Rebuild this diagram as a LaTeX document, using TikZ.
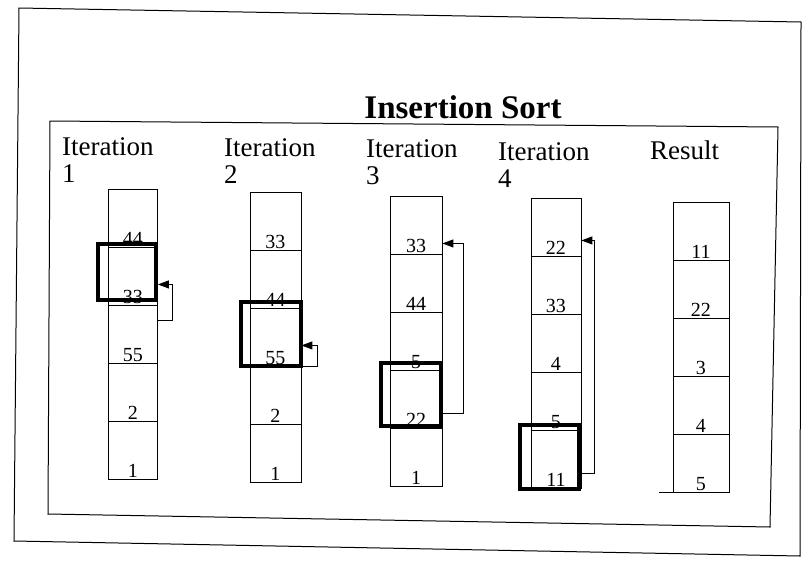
\documentclass[tikz,border=0pt]{standalone}
\usepackage{fontspec}
\setmainfont{Liberation Serif}
\usetikzlibrary{arrows.meta}
\tikzset{
  cell/.style={draw, line width=0.9pt, anchor=north west, minimum width=50pt,
    minimum height=58pt, inner xsep=0pt, inner ysep=2pt, text height=54pt,
    text depth=0pt, font=\fontsize{20}{20}\selectfont},
  hot/.style={line width=4.5pt},
  back/.style={-{Triangle[length=11pt,width=8pt]}, line width=1pt},
  head/.style={anchor=north west, align=left, inner sep=0pt,
    font=\fontsize{27}{27}\selectfont},
}
\begin{document}
\begin{tikzpicture}[x=1pt,y=-1pt]
      \useasboundingbox (0,0) rectangle (805,560);
      \draw[line width=1pt] (19,8) -- (801,22) -- (800,556) -- (14,541) -- cycle;
      \draw[line width=1pt] (50,121) -- (778,127) -- (770,527) -- (48,514) -- cycle;
      \node[font=\bfseries\fontsize{33}{33}\selectfont, anchor=base] (title) at (463,118) {Insertion Sort};
      \node[head] (h1) at (62,137) {Iteration\\1};
      \node[head] (h2) at (224,138) {Iteration\\2};
      \node[head] (h3) at (366,139) {Iteration\\3};
      \node[head] (h4) at (498,142) {Iteration\\4};
      \node[head] (h5) at (650,141) {Result};
      \foreach \v [count=\i] in {44,33,55,2,1}
        \node[cell, minimum width=49pt] (a\i) at (108,{189+58*(\i-1)}) {\v};
      \foreach \v [count=\i] in {33,44,55,2,1}
        \node[cell, minimum width=51pt] (b\i) at (249.5,{192+58*(\i-1)}) {\v};
      \foreach \v [count=\i] in {33,44,5,22,1}
        \node[cell, minimum width=51.5pt] (c\i) at (390,{196+58*(\i-1)}) {\v};
      \foreach \v [count=\i] in {22,33,4,5,11}
        \node[cell] (d\i) at (530.5,{198+58*(\i-1)}) {\v};
      \foreach \v [count=\i] in {11,22,3,4,5}
        \node[cell, minimum width=56pt] (r\i) at (672.5,{202+58*(\i-1)}) {\v};
      \draw[line width=0.9pt] (r5.south west) -- ++(-14,0);
      % the element being inserted
      \draw[hot] ([shift={(-10,-3)}]a2.north west) rectangle ([shift={(-2,-6)}]a2.south east);
      \draw[hot] ([shift={(-8.5,-6)}]b3.north west) rectangle ([shift={(-0.5,-1)}]b3.south east);
      \draw[hot] ([shift={(-9,-7)}]c4.north west) rectangle ([shift={(-1.5,-3)}]c4.south east);
      \draw[hot] ([shift={(-10.5,-5)}]d5.north west) rectangle ([shift={(-2.5,0)}]d5.south east);
      % where it goes
      \draw[back] ([shift={(0,15)}]a3.north east) -- ++(15,0) |- ([shift={(0,8)}]a2.east);
      \draw[back] (b3.south east) -- ++(16,0) |- ([shift={(0,8)}]b3.east);
      \draw[back] ([shift={(-1.5,14)}]c4.east) -- ++(22.5,0) |- ([shift={(0,18)}]c1.east);
      \draw[back] ([shift={(-2.5,14)}]d5.east) -- ++(15.5,0) |- ([shift={(0,13)}]d1.east);
    \end{tikzpicture}
\end{document}
